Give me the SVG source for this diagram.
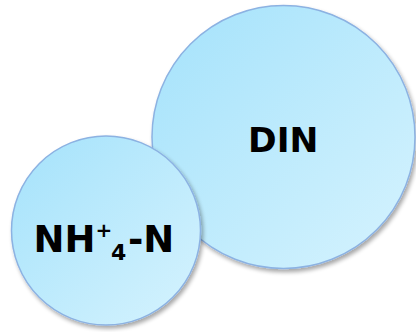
<svg xmlns="http://www.w3.org/2000/svg" width="416" height="332" viewBox="0 0 416 332">
  <defs>
    <linearGradient id="fill" x1="0" y1="0" x2="1" y2="1">
      <stop offset="0" stop-color="#a4e2fb"/>
      <stop offset="1" stop-color="#d6f3fe"/>
    </linearGradient>
    <filter id="shadow" x="-10%" y="-10%" width="125%" height="125%">
      <feGaussianBlur in="SourceAlpha" stdDeviation="2"/>
      <feOffset dx="1.5" dy="3" result="b"/>
      <feComponentTransfer><feFuncA type="linear" slope="0.35"/></feComponentTransfer>
      <feMerge><feMergeNode/><feMergeNode in="SourceGraphic"/></feMerge>
    </filter>
    <style>
      .circle { fill: url(#fill); stroke: #8cb2e2; stroke-width: 1.5; filter: url(#shadow); }
      .label { font-family: "DejaVu Sans", "Liberation Sans", sans-serif; font-weight: bold; fill: #000; }
    </style>
  </defs>
  <g id="connectors"/>
  <g id="din">
    <circle class="circle" cx="283.5" cy="137" r="131.5"/>
    <text class="label" x="248" y="152" font-size="34.5">DIN</text>
  </g>
  <g id="nh4n">
    <circle class="circle" cx="106" cy="230.5" r="94.5"/>
    <text class="label" font-size="37"><tspan x="33.6" y="252">NH</tspan><tspan x="95.5" y="237" font-size="20">+</tspan><tspan x="111" y="260" font-size="22">4</tspan><tspan x="128" y="252">-N</tspan></text>
  </g>
</svg>
